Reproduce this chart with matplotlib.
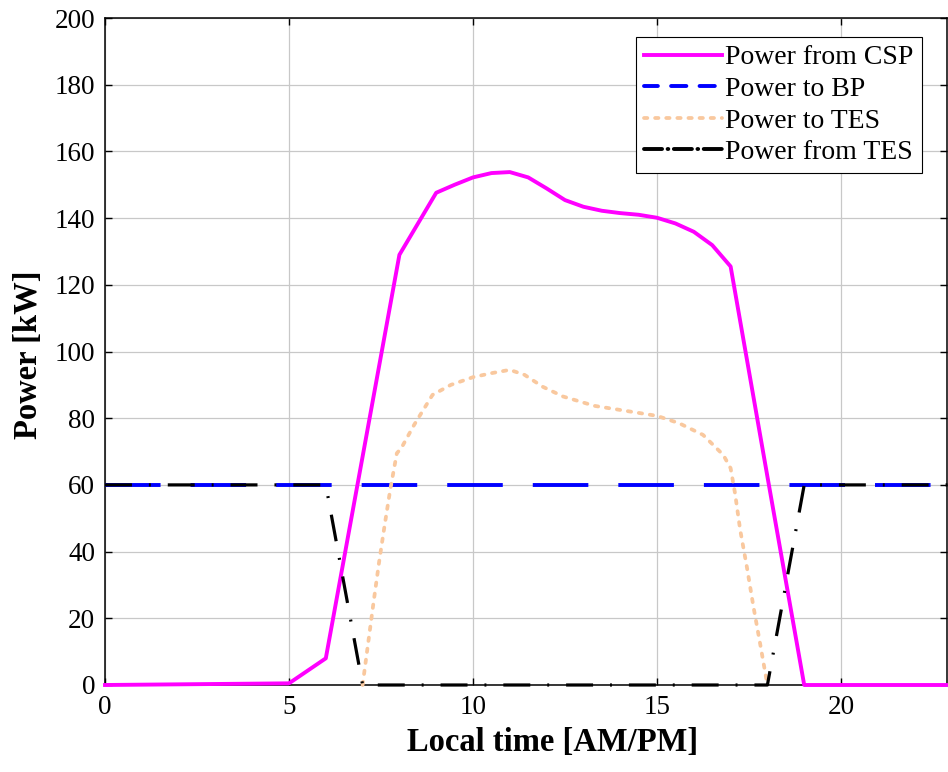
import matplotlib
matplotlib.use("Agg")
import matplotlib.pyplot as plt
from matplotlib.lines import Line2D

# Datos (potencia en kW frente a hora local)
horas = list(range(0, 24))
p_bp = [60] * 24
p_desde_tes = [60, 60, 60, 60, 60, 60, 60, 0, 0, 0, 0, 0, 0, 0, 0, 0, 0, 0, 0, 60, 60, 60, 60, 60]

t_csp = [0, 1, 2, 3, 4, 5, 6, 7, 8, 9, 9.5, 10, 10.5, 11, 11.5, 12, 12.5, 13, 13.5, 14,
         14.5, 15, 15.5, 16, 16.5, 17, 18, 19, 20, 21, 22, 23]
p_csp = [0, 0.1, 0.2, 0.3, 0.4, 0.5, 8, 68.5, 129, 147.6, 150.0, 152.2, 153.5, 153.8, 152.2,
         148.9, 145.4, 143.4, 142.2, 141.5, 141.0, 140.1, 138.4, 135.9, 131.9, 125.5, 62.5,
         0, 0, 0, 0, 0]

t_tes = [7.0, 7.15, 7.3, 7.45, 7.6, 7.75, 7.93, 8.05, 8.4, 8.9, 9.4, 10.0, 10.5, 11.0, 11.4,
         11.9, 12.45, 13.3, 14.1, 15.0, 15.6, 16.25, 16.8, 17.0, 17.12, 17.26, 17.44, 17.62,
         17.8, 18.0]
p_tes = [0, 12.5, 25, 37, 48, 58.5, 69.5, 71, 78, 87, 90, 92.3, 93.5, 94.5, 93, 89.4, 86.5,
         83.7, 82.3, 80.7, 78.5, 75, 69, 65, 57.5, 46.5, 35.5, 23.5, 12.5, 0]

xticks = [0, 5, 10, 15, 20]
yticks = list(range(0, 201, 20))
etiquetas = ["Power from CSP", "Power to BP", "Power to TES", "Power from TES"]

plt.rcParams["font.family"] = ["Liberation Serif", "DejaVu Serif"]
plt.rcParams["lines.scale_dashes"] = False

fig = plt.figure(figsize=(9.48, 7.72), dpi=100)
# posición de los ejes en píxeles: izquierda 105, derecha 947, arriba 18, abajo 685
ax = fig.add_axes([105 / 948, 1 - 685 / 772, 842 / 948, 667 / 772])

ax.plot(t_csp, p_csp, color="#ff00ff", lw=2.8, clip_on=False, zorder=3)
ax.plot(horas, p_bp, color="#0000ff", lw=2.8, linestyle=(0, (40, 21.6)),
        clip_on=False, zorder=3)
ax.plot(t_tes, p_tes, color="#f9c89e", lw=2.7, linestyle=(0, (2.4, 5.6)),
        dash_capstyle="round", clip_on=False, zorder=3)
ax.plot(horas, p_desde_tes, color="black", lw=2.3, linestyle=(0, (19.4, 12.2, 1.4, 12.2)),
        clip_on=False, zorder=3)

ax.set_xlim(0, 22.88)
ax.set_ylim(0, 200)
ax.set_xticks(xticks)
ax.set_yticks(yticks)
ax.tick_params(direction="in", top=True, right=True, length=5, width=1.0,
               labelsize=19.5, pad=7)
ax.grid(True, color="#c8c8c8", lw=0.9)
ax.set_axisbelow(True)
for s in ax.spines.values():
    s.set_linewidth(1.1)

ax.set_xlabel("Local time [AM/PM]", fontsize=23.5, fontweight="bold")
ax.set_ylabel("Power [kW]", fontsize=23.5, fontweight="bold")
ax.xaxis.set_label_coords(0.5315, -0.063)
ax.yaxis.set_label_coords(-0.072, 0.495)

# en la leyenda los trazos son más cortos, como en la figura original
handles = [
    Line2D([], [], color="#ff00ff", lw=2.8),
    Line2D([], [], color="#0000ff", lw=2.8, linestyle=(1, (11, 9.5)), dash_capstyle="round",
           solid_capstyle="round"),
    Line2D([], [], color="#f9c89e", lw=2.7, linestyle=(0, (2.4, 5.6)), dash_capstyle="round"),
    Line2D([], [], color="black", lw=2.8, linestyle=(0, (13, 4, 0.5, 4)), dash_capstyle="round"),
]
leg = ax.legend(handles, etiquetas, loc="upper right", bbox_to_anchor=(0.970, 0.972),
                borderaxespad=0, fontsize=20, handlelength=2.8, handletextpad=0.1,
                labelspacing=0.22, borderpad=0.3, fancybox=False, framealpha=1)
leg.get_frame().set_edgecolor("black")
leg.get_frame().set_linewidth(0.8)

fig.savefig("out.png", dpi=100)
